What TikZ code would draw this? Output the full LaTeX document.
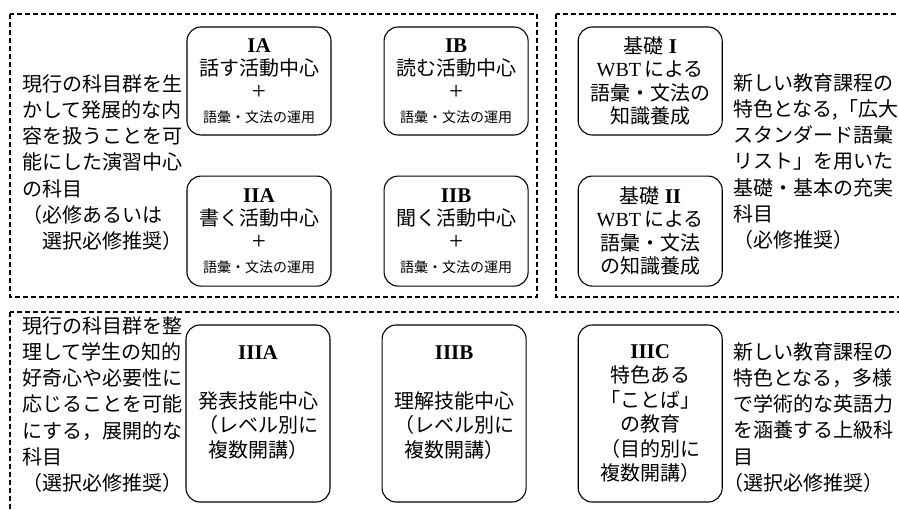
\documentclass[tikz,border=0pt]{standalone}
\usepackage{fontspec}
\setmainfont{Liberation Serif}
\newfontfamily\jp{Noto Sans CJK JP}
\usetikzlibrary{positioning}

\newcommand{\cname}[1]{{\rmfamily\bfseries\fontsize{21}{23.5}\selectfont #1}}
\newcommand{\usage}{{\fontsize{14}{16}\selectfont 語彙・文法の運用}}
\newcommand{\plus}{{\rmfamily\fontsize{25}{23.5}\selectfont +}}

\begin{document}
\begin{tikzpicture}[x=1pt,y=-1pt,
            course/.style={draw, rounded corners=14pt, line width=1.1pt, minimum width=144pt, minimum height=108pt, align=center, inner sep=0pt, font=\jp\fontsize{20}{23.5}\selectfont},
            tall/.style={course, minimum height=177pt, font=\jp\fontsize{20}{24.5}\selectfont},
            note/.style={anchor=north west, align=left, inner sep=0pt, font=\jp\fontsize{20}{26.3}\selectfont},
            group/.style={line width=1.1pt, dash pattern=on 5pt off 3pt},
            node distance = 40pt and 52pt
  ]

  \useasboundingbox (0,0) rectangle (899,510);

  % dashed groups
  \draw[group] (10,14) rectangle (537,297);
  \draw[group] (556,14) rectangle (915,297);
  \draw[group] (10,312) rectangle (915,525);

  % first group
  \node[course] (ia) at (259,81) {\cname{IA}\\話す活動中心\\\plus\\\usage};
  \node[course] (ib) [right=of ia] {\cname{IB}\\読む活動中心\\\plus\\\usage};
  \node[course, minimum height=110pt] (iia) [below=of ia] {\cname{IIA}\\書く活動中心\\\plus\\\usage};
  \node[course, minimum height=110pt] (iib) [below=of ib] {\cname{IIB}\\聞く活動中心\\\plus\\\usage};
  \node[note] (drill) at (22,74) {現行の科目群を生\\かして発展的な内\\容を扱うことを可\\能にした演習中心\\の科目\\（必修あるいは\\　選択必修推奨）};

  % kiso group
  \node[course] (kiso1) [right=49pt of ib] {基礎\;\cname{I}\\{\rmfamily WBT\,}による\\語彙・文法の\\知識養成};
  \node[course, minimum height=110pt] (kiso2) [below=of kiso1] {基礎\;\cname{II}\\{\rmfamily WBT\,}による\\語彙・文法\\の知識養成};
  \node[note] (basic) at (733,73) {新しい教育課程の\\特色となる,「広大\\スタンダード語彙\\リスト」を用いた\\基礎・基本の充実\\科目\\（必修推奨）};

  % third group
  \node[tall] (iiia) at (258,413.5) {\cname{IIIA}\\[24.5pt]発表技能中心\\（レベル別に\\複数開講）\\\mbox{}};
  \node[tall] (iiib) [right=51pt of iiia] {\cname{IIIB}\\[24.5pt]理解技能中心\\（レベル別に\\複数開講）\\\mbox{}};
  \node[tall] (iiic) [right=51pt of iiib] {\cname{IIIC}\\特色ある\\「ことば」\\の教育\\（目的別に\\複数開講）};
  \node[note] (advnote) at (22,316) {現行の科目群を整\\理して学生の知的\\好奇心や必要性に\\応じることを可能\\にする，展開的な\\科目\\（選択必修推奨）};
  \node[note] (engnote) at (733,342) {新しい教育課程の\\特色となる，多様\\で学術的な英語力\\を涵養する上級科\\目\\\kern-0.5em（選択必修推奨）};

\end{tikzpicture}
\end{document}
